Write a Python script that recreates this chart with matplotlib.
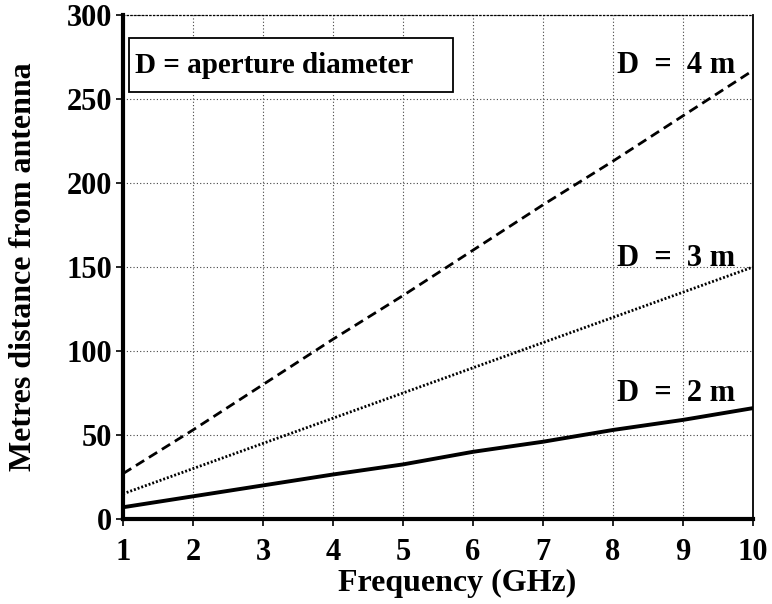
import matplotlib
matplotlib.use('Agg')
import matplotlib.pyplot as plt
from matplotlib.patches import Rectangle

# values
freq_ghz = [1, 2, 3, 4, 5, 6, 7, 8, 9, 10]
dist_d4 = [27, 53, 80, 107, 133, 160, 187, 213, 240, 267]
dist_d3 = [15, 30, 45, 60, 75, 90, 105, 120, 135, 150]
dist_d2 = [7, 13.5, 20, 26.5, 32.5, 40, 46, 53, 59, 66]
yticks = [0, 50, 100, 150, 200, 250, 300]

plt.rcParams['font.family'] = ['Liberation Serif', 'DejaVu Serif']
plt.rcParams['font.weight'] = 'bold'

fig = plt.figure(figsize=(7.72, 6.04), dpi=100)
ax = fig.add_axes([0.1593, 0.1407, 0.8161, 0.8345])

ax.plot(freq_ghz, dist_d4, color='black', lw=2.0, ls=(0, (3.5, 2)))
ax.plot(freq_ghz, dist_d3, color='black', lw=2.0, ls=(0, (0.7, 0.7)))
ax.plot(freq_ghz, dist_d2, color='black', lw=2.8)

ax.set_xlim(1, 10)
ax.set_ylim(0, 300)
ax.set_xticks(freq_ghz)
ax.set_yticks(yticks)
ax.tick_params(labelsize=22, length=5, width=1.2)
ax.tick_params(axis='x', pad=9)
ax.tick_params(axis='y', pad=3)

ax.grid(True, color='#444444', ls=(0, (1, 2)), lw=0.8)
ax.spines['left'].set_linewidth(3)
ax.spines['bottom'].set_linewidth(3)
ax.spines['right'].set_linewidth(1.3)
ax.spines['top'].set_linestyle((0, (1, 2)))
ax.spines['top'].set_linewidth(0.9)

ax.set_xlabel('Frequency (GHz)', fontsize=23, fontweight='bold', labelpad=4)
ax.xaxis.set_label_coords(0.53, -0.098)
ax.set_ylabel('Metres distance from antenna', fontsize=23, fontweight='bold', labelpad=20)

ax.text(9.74, 265.5, 'D  =  4 m', fontsize=22, fontweight='bold', ha='right', va='baseline')
ax.text(9.74, 150.5, 'D  =  3 m', fontsize=22, fontweight='bold', ha='right', va='baseline')
ax.text(9.74, 70, 'D  =  2 m', fontsize=22, fontweight='bold', ha='right', va='baseline')

# note box in the upper left
ax.add_patch(Rectangle((0.0095, 0.847), 0.5145, 0.107, transform=ax.transAxes,
                       fc='white', ec='black', lw=1.3, zorder=3))
ax.text(0.019, 0.9, 'D = aperture diameter', transform=ax.transAxes, fontsize=21,
        fontweight='bold', va='center', ha='left', zorder=4)

fig.savefig('out.png', dpi=100)
